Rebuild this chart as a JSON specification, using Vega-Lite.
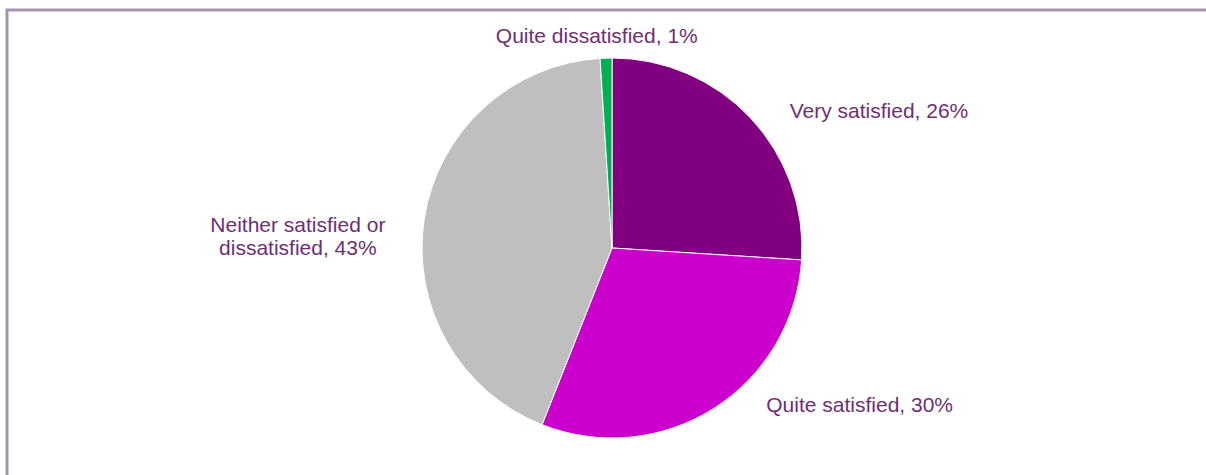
{
  "$schema": "https://vega.github.io/schema/vega-lite/v6.json",
  "width": 1210,
  "height": 476,
  "autosize": {"type": "none"},
  "padding": {"left": 7, "top": 10, "right": 0, "bottom": 0},
  "background": "white",
  "config": {
    "view": {"stroke": null},
    "text": {"font": "Liberation Sans", "fontSize": 21, "color": "#6F2F70"}
  },
  "datasets": {
    "satisfaction": [
      {"category": "Very satisfied", "value": 26, "rank": 1, "label": "Very satisfied, 26%"},
      {"category": "Quite satisfied", "value": 30, "rank": 2, "label": "Quite satisfied, 30%"},
      {"category": "Neither satisfied or dissatisfied", "value": 43, "rank": 3, "label": "Neither satisfied or\ndissatisfied, 43%"},
      {"category": "Quite dissatisfied", "value": 1, "rank": 4, "label": "Quite dissatisfied, 1%"}
    ],
    "frame": [{"name": "border"}]
  },
  "layer": [
    {
      "data": {"name": "frame"},
      "mark": {"type": "rect", "fill": null, "stroke": "#A394A9", "strokeWidth": 3},
      "encoding": {}
    },
    {
      "data": {"name": "satisfaction"},
      "encoding": {
        "theta": {"field": "value", "type": "quantitative", "stack": true},
        "order": {"field": "rank", "type": "ordinal"}
      },
      "layer": [
        {
          "mark": {"type": "arc", "outerRadius": 190, "stroke": "white", "strokeWidth": 1},
          "encoding": {
            "color": {
              "field": "category",
              "type": "nominal",
              "scale": {
                "domain": ["Very satisfied", "Quite satisfied", "Neither satisfied or dissatisfied", "Quite dissatisfied"],
                "range": ["#800080", "#CC00CC", "#BFBFBF", "#00B050"]
              },
              "legend": null
            }
          }
        },
        {
          "mark": {"type": "text", "align": "left", "baseline": "alphabetic", "dx": 10, "dy": 27, "fill": "#6F2F70", "lineBreak": "\n"},
          "encoding": {
            "radius": {"value": 230},
            "text": {"condition": {"test": "datum.category === 'Very satisfied'", "field": "label"}, "value": ""}
          }
        },
        {
          "mark": {"type": "text", "align": "left", "baseline": "alphabetic", "dx": 31, "dy": -30, "fill": "#6F2F70", "lineBreak": "\n"},
          "encoding": {
            "radius": {"value": 230},
            "text": {"condition": {"test": "datum.category === 'Quite satisfied'", "field": "label"}, "value": ""}
          }
        },
        {
          "mark": {"type": "text", "align": "center", "baseline": "alphabetic", "dx": -87, "dy": 20, "fill": "#6F2F70", "lineBreak": "\n", "lineHeight": 23.3},
          "encoding": {
            "radius": {"value": 230},
            "text": {"condition": {"test": "datum.category === 'Neither satisfied or dissatisfied'", "field": "label"}, "value": ""}
          }
        },
        {
          "mark": {"type": "text", "align": "center", "baseline": "alphabetic", "dx": -8, "dy": 25, "fill": "#6F2F70", "lineBreak": "\n"},
          "encoding": {
            "radius": {"value": 230},
            "text": {"condition": {"test": "datum.category === 'Quite dissatisfied'", "field": "label"}, "value": ""}
          }
        }
      ]
    }
  ]
}
